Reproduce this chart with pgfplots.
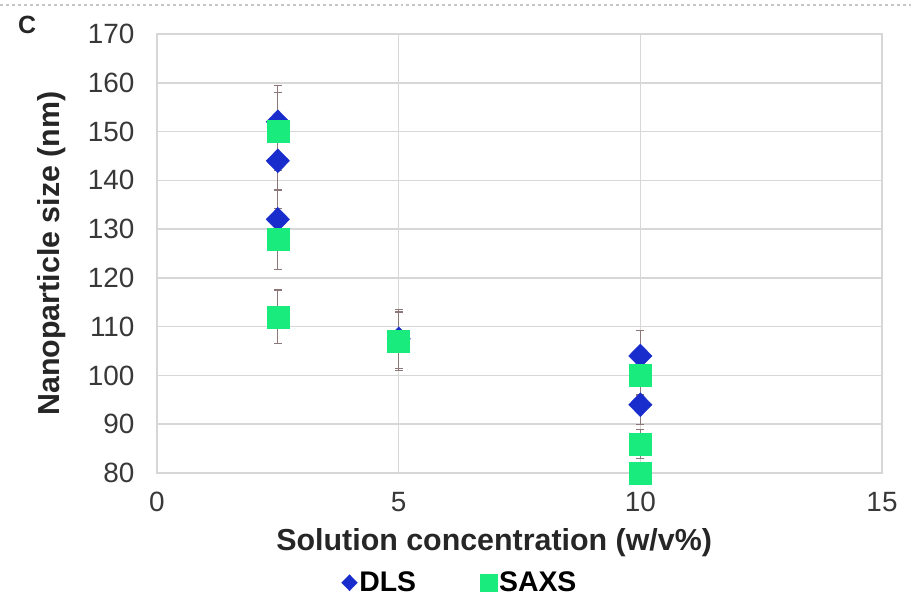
\documentclass[border=0pt]{standalone}
\usepackage{pgfplots}
\pgfplotsset{compat=1.18}
\usepackage{fontspec}
\setmainfont{Liberation Sans}
\definecolor{dlsblue}{RGB}{25,45,205}
\definecolor{saxsgreen}{RGB}{25,235,125}
\definecolor{errc}{RGB}{140,120,120}
\definecolor{gridc}{RGB}{215,215,215}
\begin{document}
\begin{tikzpicture}
\useasboundingbox (0bp,0bp) rectangle (911bp,612bp);
\draw[gray!45, dashed, line width=1.5bp] (0bp,607bp) -- (911bp,607bp);
\node[font=\fontsize{25}{29}\selectfont\bfseries, text=black!85] at (27bp,587bp) {C};
\begin{axis}[
  at={(157bp,139bp)}, anchor=south west,
  width=725bp, height=439bp, scale only axis,
  xmin=0, xmax=15, ymin=80, ymax=170,
  xtick={0,5,10,15}, ytick={80,90,...,170},
  grid=major, grid style={gridc, line width=1.5bp},
  axis line style={gridc, line width=1.5bp},
  tick style={draw=none},
  /pgf/number format/assume math mode=true,
  ticklabel style={font=\fontsize{28}{32}\selectfont, text=black!78},
  xticklabel style={yshift=-16bp},
  yticklabel style={xshift=-19bp},
  xlabel={Solution concentration (w/v\%)},
  ylabel={Nanoparticle size (nm)},
  label style={font=\fontsize{30.5}{34}\selectfont\bfseries, text=black!85},
  xlabel style={at={(axis description cs:0.465,-0.159)}, anchor=center},
  ylabel style={at={(axis description cs:-0.145,0.50)}, anchor=center},
  legend columns=2,
  legend style={at={(axis description cs:0.418,-0.25)}, anchor=center, draw=none,
    font=\fontsize{28.5}{32}\selectfont\bfseries,
    /tikz/every even column/.append style={column sep=62bp},
    /tikz/every odd column/.append style={column sep=0bp}},
  legend cell align=left,
]
\addplot[only marks, mark=diamond*, mark size=12bp, mark options={draw=dlsblue, fill=dlsblue, xscale=1.3},
  legend image post style={mark size=8bp},
  error bars/.cd, y dir=both, y explicit, error bar style={errc, line width=1.2bp}, error mark options={errc, line width=1.2bp, mark size=4bp, rotate=90}]
  coordinates {
  (2.5,152) +- (0,7.5)
  (2.5,144) +- (0,6)
  (2.5,132) +- (0,6)
  (5,107.5) +- (0,6)
  (10,104) +- (0,5.2)
  (10,94) +- (0,4)
  };
\addlegendentry{DLS}
\addplot[only marks, mark=square*, mark size=11bp, mark options={draw=saxsgreen, fill=saxsgreen},
  legend image post style={mark size=8.5bp},
  error bars/.cd, y dir=both, y explicit, error bar style={errc, line width=1.2bp}, error mark options={errc, line width=1.2bp, mark size=4bp, rotate=90}]
  coordinates {
  (2.5,150) +- (0,8)
  (2.5,128) +- (0,6.3)
  (2.5,112) +- (0,5.5)
  (5,107) +- (0,6)
  (10,100) +- (0,4)
  (10,86) +- (0,3)
  (10,80) +- (0,2)
  };
\addlegendentry{SAXS}
\end{axis}
\end{tikzpicture}
\end{document}
